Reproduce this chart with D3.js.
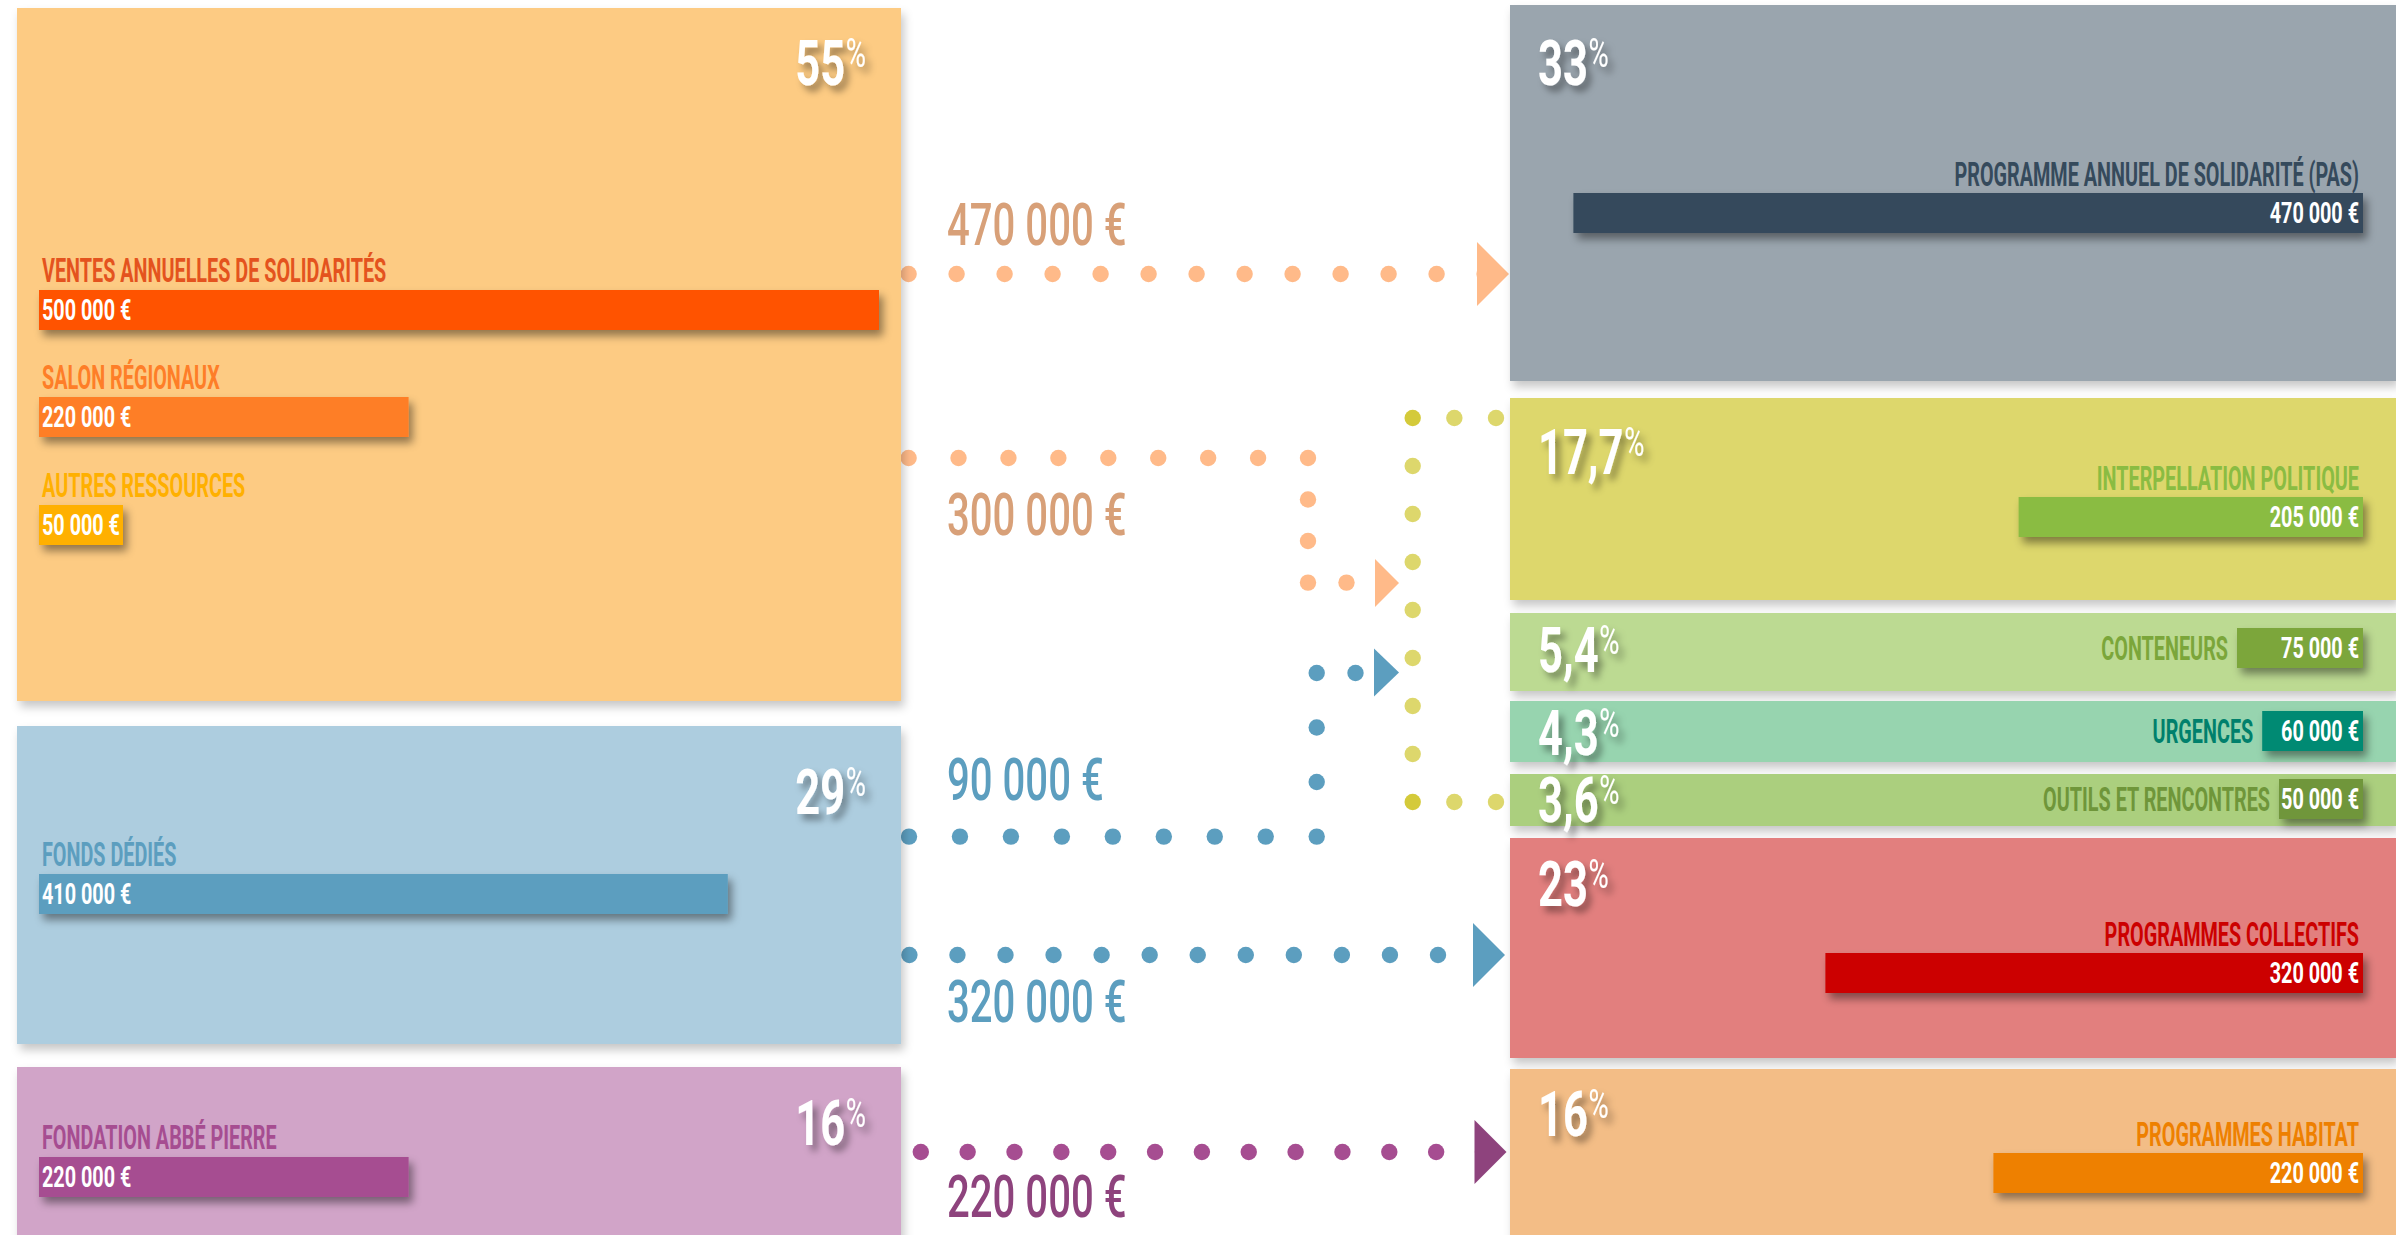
<!DOCTYPE html>
<html><head><meta charset="utf-8">
<script src="https://cdn.jsdelivr.net/npm/d3@7"></script>
<style>html,body{margin:0;padding:0;background:#fff;overflow:hidden}</style>
</head><body>
<svg id="chart" width="2396" height="1235"></svg>
<script>
// ================= DATA =================
const sourceGroupPct = ["55", "29", "16"];
const sourceLabels = ["VENTES ANNUELLES DE SOLIDARITÉS", "SALON RÉGIONAUX", "AUTRES RESSOURCES", "FONDS DÉDIÉS", "FONDATION ABBÉ PIERRE"];
const sourceValues = [500000, 220000, 50000, 410000, 220000];
const sourceGroupOf = [0, 0, 0, 1, 2];

const useLabels = ["PROGRAMME ANNUEL DE SOLIDARITÉ (PAS)", "INTERPELLATION POLITIQUE", "CONTENEURS", "URGENCES", "OUTILS ET RENCONTRES", "PROGRAMMES COLLECTIFS", "PROGRAMMES HABITAT"];
const useValues = [470000, 205000, 75000, 60000, 50000, 320000, 220000];
const usePct = ["33", "17,7", "5,4", "4,3", "3,6", "23", "16"];

const flowFrom = [0, 0, 1, 1, 2];
const flowTo = ["PAS", "GROUPE", "GROUPE", "PROGRAMMES COLLECTIFS", "PROGRAMMES HABITAT"];
const flowValues = [470000, 300000, 90000, 320000, 220000];

// ================= STYLE / LAYOUT =================
const C = {
  leftBox: ["#FDCB83", "#ADCDDF", "#D1A4C8"],
  sourceBar: ["#FF5200", "#FE7E28", "#FFB000", "#5C9EBF", "#A64D91"],
  sourceLabel: ["#E4531E", "#FE7E28", "#FFB000", "#5C9EBF", "#A64D91"],
  rightBox: ["#9AA5AE", "#DDD76C", "#BCDA92", "#97D4AF", "#ABCF7E", "#E27F7E", "#F3BD86"],
  useBar: ["#354A5C", "#8ABC42", "#7BA63A", "#008A73", "#6F963A", "#CC0000", "#EE8000"],
  useLabel: ["#354A5C", "#8ABC42", "#7BA63A", "#00806C", "#6F963A", "#CC0000", "#EE8000"],
  flowDot: ["#FFBA89", "#FFBA89", "#5C9EBF", "#5C9EBF", "#A64D91"],
  flowArrow: ["#FFBA89", "#FFBA89", "#5C9EBF", "#5C9EBF", "#8E437D"],
  flowText: ["#D8A078", "#D8A078", "#5C9EBF", "#5C9EBF", "#8E437D"],
  bracket: "#DDD76C", bracketCorner: "#D4CA3A"
};
const FONT = "Roboto, 'DejaVu Sans', sans-serif";
const SX_LABEL = 0.6, SX_NUM = 0.66, SX_PCT = 0.69;

const L = {
  leftX: 17, leftW: 884,
  leftBoxes: [{y: 8, h: 693}, {y: 726, h: 318}, {y: 1067, h: 200}],
  leftPctRight: 866, leftPctBase: [85, 814, 1145],
  rightX: 1510, rightW: 886,
  rightBoxes: [{y: 5, h: 376}, {y: 398, h: 202}, {y: 613, h: 78}, {y: 701, h: 61}, {y: 774, h: 52}, {y: 838, h: 220}, {y: 1069, h: 200}],
  rightPctX: 1538, rightPctBase: [85, 474, 672, 755, 822, 906, 1136],
  sourceBarX: 39, sourceBarY: [290, 397, 505, 874, 1157],
  useBarRight: 2363, useBarY: [193, 497, 628, 711, 779, 953, 1153],
  useInline: [false, false, true, true, true, false, false],
  barH: 40, barMaxW: 840,
  flowTextX: 947,
  flowTextBase: [245, 535, 800, 1022, 1217],
  // dotted routes: segments [x0,y0,x1,y1,nDots]
  routes: [
    [[908.6, 274, 1484.6, 274, 13]],
    [[908.6, 458, 1308, 458, 9], [1308, 458, 1308, 582.6, 4], [1308, 582.6, 1346.5, 582.6, 2]],
    [[909, 836.6, 1316.7, 836.6, 9], [1316.7, 836.6, 1316.7, 673, 4], [1316.7, 673, 1355.5, 673, 2]],
    [[909.4, 955, 1438, 955, 12]],
    [[920.8, 1152, 1483, 1152, 13]]
  ],
  arrows: [[1509, 274, 32, 64], [1399, 583, 24, 48], [1399, 672.5, 25, 48], [1505, 955, 32, 64], [1506.5, 1152, 32, 64]],
  bracket: [[1496, 418, 1412.7, 418, 3], [1412.7, 418, 1412.7, 802, 9], [1412.7, 802, 1496, 802, 3]],
  dotR: 8.2
};

// ================= DRAW =================
const svg = d3.select("#chart");
const defs = svg.append("defs");
function shadow(id, dx, dy, sd, op) {
  const f = defs.append("filter").attr("id", id)
    .attr("x", "-20%").attr("y", "-60%").attr("width", "150%").attr("height", "260%");
  f.append("feDropShadow").attr("dx", dx).attr("dy", dy).attr("stdDeviation", sd)
    .attr("flood-color", "#000").attr("flood-opacity", op);
}
shadow("boxShadow", 3, 6, 5, 0.22);
shadow("barShadow", 4, 6, 4, 0.42);
shadow("txtShadow", 5, 6, 3.5, 0.38);

const locale = d3.formatLocale({decimal: ",", thousands: "\u00a0", grouping: [3], currency: ["", "\u00a0€"]});
const fmtEuro = locale.format("$,");

const x = d3.scaleLinear().domain([0, 500000]).range([0, L.barMaxW]);

function ctext(parent, px, py, str, o) {
  const g = parent.append("g").attr("transform", `translate(${px},${py}) scale(${o.sx},1)`);
  const t = g.append("text")
    .attr("text-anchor", o.anchor || "start")
    .attr("font-family", FONT).attr("font-weight", o.weight || 700)
    .attr("font-size", o.size).attr("fill", o.fill).text(str);
  if (o.filter) g.attr("filter", o.filter);
  return t;
}

// ---- flows (drawn below boxes) ----
const gFlow = svg.append("g");
function routeDots(route) {
  const pts = [];
  route.forEach(([x0, y0, x1, y1, n], si) => {
    d3.range(n).forEach(k => {
      if (si > 0 && k === 0) return;
      const t = n === 1 ? 0 : k / (n - 1);
      pts.push([x0 + (x1 - x0) * t, y0 + (y1 - y0) * t]);
    });
  });
  return pts;
}
flowValues.forEach((v, i) => {
  const pts = routeDots(L.routes[i]);
  gFlow.append("g").selectAll("circle").data(pts).join("circle")
    .attr("cx", d => d[0]).attr("cy", d => d[1]).attr("r", L.dotR).attr("fill", C.flowDot[i]);
});
// bracket for the grouped targets
const bpts = routeDots(L.bracket);
gFlow.append("g").selectAll("circle").data(bpts).join("circle")
  .attr("cx", d => d[0]).attr("cy", d => d[1]).attr("r", L.dotR)
  .attr("fill", (d, i) => (i === 2 || i === bpts.length - 3) ? C.bracketCorner : C.bracket);
// arrows
flowValues.forEach((v, i) => {
  const [tx, ty, w, h] = L.arrows[i];
  gFlow.append("path")
    .attr("d", d3.line()([[tx - w, ty - h / 2], [tx, ty], [tx - w, ty + h / 2]]) + "Z")
    .attr("fill", C.flowArrow[i]);
});
// flow value labels
flowValues.forEach((v, i) => {
  ctext(gFlow, L.flowTextX, L.flowTextBase[i], fmtEuro(v), {size: 59, sx: 0.68, fill: C.flowText[i], weight: 500});
});

// ---- left boxes ----
const gL = svg.append("g");
gL.selectAll("rect.box").data(sourceGroupPct).join("rect").attr("class", "box")
  .attr("x", L.leftX).attr("y", (d, i) => L.leftBoxes[i].y)
  .attr("width", L.leftW).attr("height", (d, i) => L.leftBoxes[i].h)
  .attr("fill", (d, i) => C.leftBox[i]).attr("filter", "url(#boxShadow)");

function pctText(parent, px, py, pct, anchor) {
  const g = parent.append("g").attr("filter", "url(#txtShadow)");
  const gg = g.append("g").attr("transform", `translate(${px},${py}) scale(${SX_PCT},1)`);
  const t = gg.append("text").attr("text-anchor", anchor).attr("font-family", FONT)
    .attr("font-weight", 700).attr("fill", "#fff");
  t.append("tspan").attr("font-size", 63).text(pct);
  t.append("tspan").attr("font-size", 40).attr("font-weight", 400).attr("dx", 1).attr("dy", -18).text("%");
}
sourceGroupPct.forEach((p, i) => pctText(gL, L.leftPctRight, L.leftPctBase[i], p, "end"));

sourceValues.forEach((v, i) => {
  const by = L.sourceBarY[i];
  gL.append("rect").attr("x", L.sourceBarX).attr("y", by)
    .attr("width", x(v)).attr("height", L.barH)
    .attr("fill", C.sourceBar[i]).attr("filter", "url(#barShadow)");
  ctext(gL, L.sourceBarX + 3, by - 8, sourceLabels[i], {size: 33, sx: SX_LABEL, fill: C.sourceLabel[i]});
  const t = ctext(gL, L.sourceBarX + 3, by + 30, fmtEuro(v), {size: 30, sx: SX_NUM, fill: "#fff"});
  const avail = (x(v) - 6) / SX_NUM;
  const w = t.node().getComputedTextLength();
  if (w > avail) t.attr("textLength", avail).attr("lengthAdjust", "spacingAndGlyphs");
});

// ---- right boxes ----
const gR = svg.append("g");
gR.selectAll("rect.box").data(usePct).join("rect").attr("class", "box")
  .attr("x", L.rightX).attr("y", (d, i) => L.rightBoxes[i].y)
  .attr("width", L.rightW).attr("height", (d, i) => L.rightBoxes[i].h)
  .attr("fill", (d, i) => C.rightBox[i]).attr("filter", "url(#boxShadow)");

usePct.forEach((p, i) => pctText(gR, L.rightPctX, L.rightPctBase[i], p, "start"));

useValues.forEach((v, i) => {
  const by = L.useBarY[i];
  const bx = L.useBarRight - x(v);
  gR.append("rect").attr("x", bx).attr("y", by)
    .attr("width", x(v)).attr("height", L.barH)
    .attr("fill", C.useBar[i]).attr("filter", "url(#barShadow)");
  if (L.useInline[i]) {
    ctext(gR, bx - 9, by + 32, useLabels[i], {size: 33, sx: SX_LABEL, fill: C.useLabel[i], anchor: "end"});
  } else {
    ctext(gR, L.useBarRight - 4, by - 7, useLabels[i], {size: 33, sx: SX_LABEL, fill: C.useLabel[i], anchor: "end"});
  }
  ctext(gR, L.useBarRight - 4, by + 30, fmtEuro(v), {size: 30, sx: SX_NUM, fill: "#fff", anchor: "end"});
});
</script>
</body></html>
